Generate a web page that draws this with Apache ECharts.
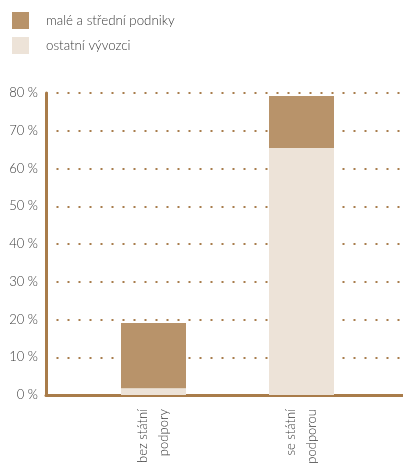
<!DOCTYPE html>
<html>
<head>
<meta charset="utf-8">
<script src="https://cdn.jsdelivr.net/npm/echarts@6/dist/echarts.min.js"></script>
<style>
  html, body { margin: 0; padding: 0; background: #fff; }
  #chart { width: 403px; height: 463px; }
</style>
</head>
<body>
<div id="chart"></div>
<script>
// Podíl vývozců podle státní podpory (v %)
const categories = ['bez státní\npodpory', 'se státní\npodporou'];
const ostatniVyvozci = [1.8, 65.4];
const maleStredni = [17.3, 13.8];
const yTicks = [0, 10, 20, 30, 40, 50, 60, 70, 80];

const FONT = 'Lato, "Liberation Sans", sans-serif';
const DARK = '#b8936a';
const LIGHT = '#ede3d8';
const AXIS = '#a97c4a';
const TEXT = '#3a3a3a';

const chart = echarts.init(document.getElementById('chart'), null, { renderer: 'canvas' });

const yMin = yTicks[0];
const yMax = yTicks[yTicks.length - 1];
const yStep = yTicks[1] - yTicks[0];

chart.setOption({
  animation: false,
  legend: {
    orient: 'vertical',
    left: 7,
    top: 7,
    itemWidth: 17,
    itemHeight: 17,
    itemGap: 8,
    icon: 'rect',
    data: ['malé a střední podniky', 'ostatní vývozci'],
    textStyle: { fontFamily: FONT, fontSize: 13.3, fontWeight: 300, color: TEXT, padding: [0, 0, 0, 12] }
  },
  grid: [
    // frame: axis lines, y labels and dotted gridlines
    { left: 46, right: 0, top: 93, bottom: 68, outerBoundsMode: 'none' },
    // plot area for the two category bars
    { left: 79.5, right: 27.5, top: 93, bottom: 68, outerBoundsMode: 'none' }
  ],
  xAxis: [
    {
      gridIndex: 0, type: 'value', min: 0, max: 1,
      axisLine: { show: true, lineStyle: { color: AXIS, width: 3 } },
      axisTick: { show: false }, axisLabel: { show: false }, splitLine: { show: false }
    },
    {
      gridIndex: 1, type: 'category', data: categories,
      axisLine: { show: false }, axisTick: { show: false },
      axisLabel: {
        interval: 0, rotate: 90, margin: 14,
        fontFamily: FONT, fontSize: 13, fontWeight: 300, color: TEXT,
        lineHeight: 21, align: 'right', verticalAlign: 'middle'
      }
    }
  ],
  yAxis: [
    {
      gridIndex: 0, type: 'value', min: yMin, max: yMax, interval: yStep,
      axisLine: { show: true, lineStyle: { color: AXIS, width: 3 } },
      axisTick: { show: false },
      axisLabel: {
        margin: 8, fontFamily: FONT, fontSize: 13, fontWeight: 300, color: TEXT,
        formatter: v => v + ' %'
      },
      splitLine: {
        show: true,
        lineStyle: { color: '#a87d4c', width: 2, type: [2, 9], dashOffset: 0.5 }
      }
    },
    {
      gridIndex: 1, type: 'value', min: yMin, max: yMax, interval: yStep,
      show: false, splitLine: { show: false }
    }
  ],
  series: [
    {
      name: 'ostatní vývozci', type: 'bar', stack: 'total',
      xAxisIndex: 1, yAxisIndex: 1, barWidth: 65,
      itemStyle: { color: LIGHT }, data: ostatniVyvozci
    },
    {
      name: 'malé a střední podniky', type: 'bar', stack: 'total',
      xAxisIndex: 1, yAxisIndex: 1, barWidth: 65,
      itemStyle: { color: DARK }, data: maleStredni
    }
  ]
});
</script>
</body>
</html>
